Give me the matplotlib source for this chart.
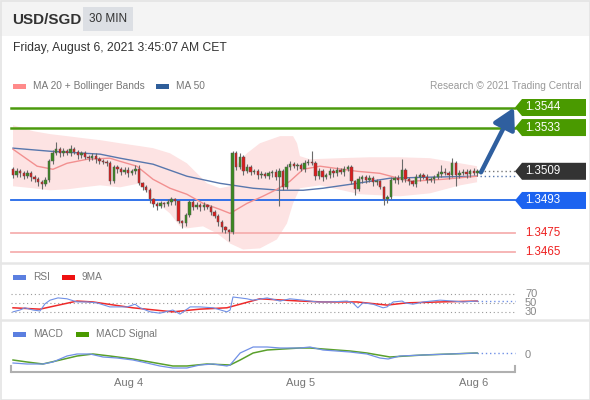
import matplotlib
matplotlib.use('Agg')
import matplotlib.pyplot as plt
from matplotlib.patches import Rectangle, Polygon
import numpy as np

plt.rcParams['font.family'] = ['Liberation Sans', 'DejaVu Sans']

# ---------------- data ----------------
first_open = 1.35101
closes = [1.35068, 1.35090, 1.35079, 1.35063, 1.35079, 1.35057, 1.35046, 1.35030, 1.35019, 1.35041,
          1.35145, 1.35189, 1.35211, 1.35189, 1.35200, 1.35189, 1.35211, 1.35195, 1.35178, 1.35189,
          1.35167, 1.35162, 1.35173, 1.35156, 1.35145, 1.35140, 1.35134, 1.35035, 1.35112, 1.35101,
          1.35085, 1.35096, 1.35079, 1.35090, 1.35101, 1.35024, 1.35002, 1.34986, 1.34936, 1.34909,
          1.34898, 1.34914, 1.34909, 1.34920, 1.34936, 1.34925, 1.34815, 1.34804, 1.34848, 1.34920,
          1.34892, 1.34903, 1.34892, 1.34903, 1.34892, 1.34865, 1.34843, 1.34810, 1.34782, 1.34766,
          1.34755, 1.35189, 1.35112, 1.35167, 1.35090, 1.35112, 1.35085, 1.35090, 1.35068, 1.35074,
          1.35063, 1.35079, 1.35085, 1.35057, 1.35090, 1.35002, 1.35112, 1.35129, 1.35118, 1.35123,
          1.35101, 1.35134, 1.35140, 1.35134, 1.35063, 1.35090, 1.35057, 1.35068, 1.35090, 1.35079,
          1.35096, 1.35085, 1.35101, 1.35112, 1.35035, 1.34991, 1.35046, 1.35057, 1.35041, 1.35052,
          1.35030, 1.35035, 1.35002, 1.34936, 1.34947, 1.35041, 1.35052, 1.35041, 1.35096, 1.35046,
          1.35035, 1.35019, 1.35057, 1.35068, 1.35057, 1.35041, 1.35046, 1.35057, 1.35074, 1.35085,
          1.35079, 1.35068, 1.35134, 1.35068, 1.35079, 1.35085, 1.35074, 1.35090, 1.35079, 1.35090]

# wick lengths above / below the body (units of 0.0001)
wick_up = [1.5, 2, 1.5, 1, 2, 1.5, 1, 1.5, 1, 2,
           1, 2, 4, 1.5, 2, 1.5, 2.5, 1.5, 1, 1.5,
           1.5, 1, 2, 1.5, 1, 1.5, 1, 1, 1.5, 1.5,
           1, 2, 1.5, 1, 2.5, 2.5, 1, 1.5, 1, 1,
           1, 1.5, 1, 2, 1.5, 1, 1, 1, 1.5, 1.5,
           1, 2, 1.5, 2, 1, 1.5, 1, 1, 1.5, 1,
           1, 1, 1.5, 2.5, 1, 2, 1, 1.5, 1, 1.5,
           1, 1.5, 1, 1.5, 2, 1, 2, 1.5, 1, 1.5,
           1.5, 2, 2, 6, 1, 2, 1, 1.5, 2, 1,
           1.5, 1, 2, 1.5, 1, 1, 2, 1.5, 1, 2,
           1, 1.5, 1, 1, 1.5, 2, 1, 1.5, 6, 1,
           1.5, 1, 2, 1.5, 1, 2, 1.5, 1, 2, 4,
           2.5, 1.5, 3, 1, 2, 1.5, 2, 1.5, 2, 1.5]
wick_down = [1.5, 1, 2, 1.5, 1, 2, 1.5, 2, 2.5, 1,
             1, 1.5, 1, 2, 1.5, 1, 1.5, 1, 2, 1.5,
             1, 1.5, 1, 2, 1.5, 1, 1.5, 1.5, 1, 2,
             1.5, 1, 2, 1, 1.5, 1, 1.5, 1, 2, 1.5,
             2, 1, 1.5, 1, 1.5, 2, 1, 2.5, 1.5, 1,
             1.5, 1, 2, 1.5, 1, 1.5, 1, 2, 2.5, 1.5,
             5, 1, 1.5, 1, 2, 1, 1.5, 1, 2, 1.5,
             1, 1.5, 2, 1.5, 16, 1.5, 1, 1.5, 1, 2,
             1, 1.5, 1, 1, 2, 1.5, 2, 1, 1.5, 2,
             1.5, 1, 2, 1, 1.5, 3, 1, 2, 1.5, 1,
             2, 1.5, 1, 3, 2, 1, 1.5, 2, 1, 1.5,
             2, 1, 1.5, 2, 1, 1.5, 1, 2, 1, 1.5,
             1, 2, 1, 6, 1.5, 1, 2, 1.5, 1, 1.5]

# Bollinger bands, MA20, MA50 (x = candle index)
bb_up_x = [0, 5.6, 10.3, 15, 19.4, 24.2, 29.7, 35.3, 38.9, 43.6, 48.3, 51.1, 53.9, 57.5, 60.3,
           61.7, 65, 68.6, 74.2, 77.8, 78.9, 79.7, 82.5, 90.8, 99.2, 107.5, 115.8, 124.2, 128.9]
bb_up = [1.35343, 1.35310, 1.35294, 1.35283, 1.35272, 1.35261, 1.35244, 1.35228, 1.35217, 1.35189,
         1.35134, 1.35079, 1.35024, 1.34997, 1.35008, 1.35118, 1.35189, 1.35244, 1.35283, 1.35283,
         1.35244, 1.35173, 1.35156, 1.35162, 1.35167, 1.35167, 1.35162, 1.35134, 1.35118]
bb_lo_x = [0, 5.6, 10.3, 15, 19.4, 24.2, 29.7, 35.3, 38.9, 43.6, 46.4, 48.3, 52.8, 56.7, 60.3,
           63.9, 68.6, 73.3, 76.1, 77.8, 79.7, 85.3, 96.4, 107.5, 115.8, 124.2, 128.9]
bb_lo = [1.35008, 1.34997, 1.34986, 1.34991, 1.35002, 1.35013, 1.35002, 1.35024, 1.34936, 1.34859,
         1.34788, 1.34777, 1.34788, 1.34749, 1.34694, 1.34661, 1.34667, 1.34716, 1.34804, 1.34914,
         1.34997, 1.35013, 1.34964, 1.34953, 1.34969, 1.35013, 1.35030]
ma20_x = [0, 6.7, 11.1, 15, 20.6, 26.9, 29.7, 34.4, 38.9, 43.6, 48.3, 52.8, 57.5, 60.3, 65,
          69.4, 73.3, 76.9, 80.6, 85.3, 95.6, 101.9, 110.3, 119.4, 128.9]
ma20 = [1.35211, 1.35118, 1.35101, 1.35134, 1.35156, 1.35162, 1.35145, 1.35118, 1.35046, 1.34997,
        1.34964, 1.34914, 1.34881, 1.34859, 1.34914, 1.34953, 1.34991, 1.35035, 1.35101, 1.35118,
        1.35090, 1.35079, 1.35035, 1.35046, 1.35063]
ma50_x = [0, 10.3, 24.2, 29.7, 38.9, 48.3, 57.5, 66.7, 74.2, 80.6, 86.1, 95.6, 104.7, 113.9, 128.9]
ma50 = [1.35217, 1.35200, 1.35184, 1.35162, 1.35129, 1.35063, 1.35024, 1.34997, 1.34986, 1.34986,
        1.34997, 1.35024, 1.35052, 1.35057, 1.35063]

resistances = [1.3544, 1.3533]
last_price = 1.3509
support = 1.3493
lower_levels = [1.3475, 1.3465]

rsi_x = [0, 1.9, 3.3, 5.6, 7.5, 8.9, 10.3, 12.5, 15, 17.8, 20.6, 23.3, 26.9, 29.7, 31.7, 33.9, 35.3,
         38.1, 40.8, 44.4, 46.4, 49.2, 51.9, 55.6, 59.4, 60.3, 61.1, 63.1, 65, 66.7, 70.6, 74.2,
         76.9, 80.6, 84.4, 88.1, 92.8, 94.4, 95.8, 97.2, 100, 102.8, 103.9, 105.6, 108.1, 108.9,
         111.1, 113.9, 118.6, 122.2, 125, 128.9]
rsi = [31, 35, 40, 35, 33, 49, 57, 62, 60, 53, 53, 51, 42, 42, 42, 48, 40,
       31, 28, 35, 26, 42, 42, 40, 31, 35, 64, 62, 60, 57, 62, 55,
       60, 57, 53, 53, 55, 51, 40, 51, 48, 40, 42, 53, 55, 51,
       48, 53, 57, 55, 53, 55]
rsi_ma_x = [0, 7.5, 17.8, 22.2, 33.3, 44.4, 51.9, 59.4, 68.6, 79.7, 86.1, 95.6, 103.9, 109.4, 118.6, 128.9]
rsi_ma = [40, 37, 55, 53, 40, 31, 37, 40, 60, 55, 53, 53, 46, 51, 53, 55]

macd_x = [0, 3.9, 8.3, 11.1, 15, 17.8, 21.4, 25, 28.9, 33.3, 37.2, 40.8, 44.4, 48.3, 51.9, 55.6,
          59.4, 60.3, 63.1, 66.7, 70.6, 74.2, 79.7, 82.5, 86.1, 93.6, 98.3, 101.9, 104.2, 107.5,
          113.9, 121.4, 128.9]
macd = [-1.6, -1.8, -1.8, -1.4, -0.2, 0.2, 0.2, -0.4, -0.6, -1.0, -1.6, -2.2, -2.6, -2.6, -2.0, -1.8,
        -2.2, -2.0, 0.4, 1.6, 1.6, 1.4, 1.4, 1.6, 1.0, 0.6, 0.2, -0.6, -0.8, -0.2,
        0.0, 0.2, 0.4]
signal_x = [0, 3.9, 8.3, 13.1, 17.8, 22.2, 26.9, 33.3, 38.1, 44.4, 48.3, 53.9, 60.3, 63.1, 66.7,
            70.6, 75, 79.7, 82.5, 93.6, 98.3, 104.7, 113.9, 121.4, 128.9]
signal = [-1.0, -1.4, -1.8, -1.0, -0.2, 0.2, -0.2, -0.8, -1.4, -2.2, -2.2, -1.8, -2.0, -1.0, 0.4,
          1.0, 1.2, 1.4, 1.4, 0.8, 0.4, -0.4, 0.0, 0.2, 0.4]

day_ticks = [32, 80, 128]
day_labels = ['Aug 4', 'Aug 5', 'Aug 6']

# ---------------- layout helpers ----------------
W, H = 590, 400
def px(x):
    return (x - 13) / 3.6
X0, X1 = px(0), px(W)
PPX = 0.00005486   # price per pixel in main panel
ANCHOR_P, ANCHOR_Y = 1.3544, 107.5

fig = plt.figure(figsize=(W / 100, H / 100), dpi=100)
fig.patch.set_facecolor('white')

bg = fig.add_axes([0, 0, 1, 1], zorder=0)
bg.set_xlim(0, W); bg.set_ylim(H, 0); bg.axis('off')

def panel(top, bottom):
    ax = fig.add_axes([0, (H - bottom) / H, 1, (bottom - top) / H], zorder=2)
    ax.patch.set_alpha(0)
    ax.axis('off')
    ax.set_xlim(X0, X1)
    return ax

# header
bg.add_patch(Rectangle((0, 0), W, 36, color='#f4f4f4', lw=0))
bg.add_patch(Rectangle((0.5, 0.5), W - 1, H - 1, fill=False, ec='#e4e4e4', lw=1.2))
bg.add_patch(Rectangle((83, 7), 50, 24, color='#dcdfe4', lw=0))
bg.text(12, 19.5, 'USD/SGD', fontsize=11, fontweight='bold', color='#333333', va='center')
bg.text(108, 19.5, '30 MIN', fontsize=8.5, color='#333333', va='center', ha='center')
bg.text(13, 48, 'Friday, August 6, 2021 3:45:07 AM CET', fontsize=8.7, color='#333333', va='center')

# legends
def legend_item(x, y, color, label):
    bg.add_patch(Rectangle((x, y - 2.5), 13, 5, color=color, lw=0))
    bg.text(x + 20, y, label, fontsize=7.3, color='#777777', va='center')

legend_item(13, 86, '#ff8a8a', 'MA 20 + Bollinger Bands')
legend_item(156, 86, '#2f5e9a', 'MA 50')
bg.text(581, 86, 'Research \u00a9 2021 Trading Central', fontsize=7.3, color='#999999', va='center', ha='right')
legend_item(13, 277, '#5b7fe0', 'RSI')
legend_item(62, 277, '#ee1111', '9MA')
legend_item(13, 334, '#5b7fe0', 'MACD')
legend_item(76, 334, '#4a9a00', 'MACD Signal')

# separators
for yy in (262.5, 319.5):
    bg.plot([0, W], [yy, yy], color='#e6e6e6', lw=1.8)

# x axis
bg.plot([11, 515], [372, 372], color='#b0b0b0', lw=1.5, solid_capstyle='butt')
bg.plot([11, 11], [366, 372], color='#b0b0b0', lw=1.5)
bg.plot([515, 515], [366, 372], color='#b0b0b0', lw=1.5)

# ---------------- main panel ----------------
TOP, BOT = 95, 262
ax = panel(TOP, BOT)
ax.set_ylim(ANCHOR_P - (BOT - ANCHOR_Y) * PPX, ANCHOR_P + (ANCHOR_Y - TOP) * PPX)

poly_x = list(bb_up_x) + list(bb_lo_x[::-1])
poly_y = list(bb_up) + list(bb_lo[::-1])
ax.fill(poly_x, poly_y, color='#fde3e3', lw=0, zorder=1)

L0, L1 = px(11), px(515)
for lv in resistances:
    ax.plot([L0, L1], [lv, lv], color='#4c9a0e', lw=1.8, zorder=2)
ax.plot([L0, L1], [support, support], color='#2268e8', lw=1.3, zorder=2)
for lv in lower_levels:
    ax.plot([L0, L1], [lv, lv], color='#f6b0b0', lw=1.3, zorder=2)

ax.plot(ma50_x, ma50, color='#5877ad', lw=1.0, zorder=3)
ax.plot(ma20_x, ma20, color='#f29090', lw=1.0, zorder=3)

opens = [first_open] + closes[:-1]
n = len(closes)
idx = np.arange(n)
for i in range(n):
    o, c = opens[i], closes[i]
    top, bot = max(o, c), min(o, c)
    hi = top + wick_up[i] * 1e-4
    lo = bot - wick_down[i] * 1e-4
    ax.plot([idx[i], idx[i]], [lo, hi], color='#6a6a6a', lw=0.8, zorder=4, solid_capstyle='butt')
    col = '#3b8a1f' if c >= o else '#dd1c1c'
    h = max(top - bot, 0.00002)
    ax.add_patch(Rectangle((idx[i] - 0.36, bot), 0.72, h, facecolor=col, edgecolor='#555555',
                           lw=0.35, zorder=5))

# dotted extensions
ax.plot([px(480), L1], [last_price, last_price], color='#777777', lw=1, ls=(0, (1, 2)), zorder=3)
ax.plot([px(480), L1], [ma50[-1], ma50[-1]], color='#5877ad', lw=1, ls=(0, (1, 2)), zorder=3)

# tags
hh = 8.5 * PPX
def tag(level, color):
    xs = [px(515), px(522), px(586), px(586), px(522)]
    ys = [level, level + hh, level + hh, level - hh, level - hh]
    ax.add_patch(Polygon(list(zip(xs, ys)), closed=True, color=color, lw=0, zorder=6, clip_on=False))
    ax.text(px(525), level, f'{level:.4f}', color='white', fontsize=8.3, va='center', ha='left',
            zorder=7, clip_on=False)

tag(resistances[0], '#4a9a00')
tag(resistances[1], '#4a9a00')
tag(last_price, '#333333')
tag(support, '#1c63f0')
for lv in lower_levels:
    ax.text(px(525), lv, f'{lv:.4f}', color='#ee2020', fontsize=8.3, va='center', ha='left', clip_on=False)

ax.annotate('', xy=(px(514), resistances[0]),
            xytext=(px(481), last_price - 1 * PPX),
            arrowprops=dict(arrowstyle='-|>,head_length=0.9,head_width=0.5', color='#2f5f9f',
                            lw=3.2, mutation_scale=14, shrinkA=0, shrinkB=0), zorder=8)

# ---------------- RSI panel ----------------
rax = panel(262, 319)
rax.set_ylim(70 - (319 - 294.3) / 0.45, 70 + (294.3 - 262) / 0.45)
for lv in (70, 50, 30):
    rax.plot([L0, L1], [lv, lv], color='#9a9a9a', lw=0.8, ls=(0, (1, 2.5)))
    rax.text(px(525), lv, str(lv), fontsize=8, color='#888888', va='center', ha='left', clip_on=True)
rax.plot(rsi_ma_x, rsi_ma, color='#ee2a2a', lw=1.1, zorder=3)
rax.plot(rsi_x, rsi, color='#7090e6', lw=0.8, zorder=4)
rax.plot([rsi_x[-1], L1], [rsi[-1], rsi[-1]], color='#7090e6', lw=1, ls=(0, (1, 2)))

# ---------------- MACD panel ----------------
max_ = panel(319, 372)
max_.set_ylim((355 - 372) * 0.2, (355 - 319) * 0.2)
max_.plot(signal_x, signal, color='#5aa02c', lw=1.1, zorder=3)
max_.plot(macd_x, macd, color='#7090e6', lw=0.9, zorder=4)
max_.plot([macd_x[-1], L1], [macd[-1], macd[-1]], color='#7090e6', lw=1, ls=(0, (1, 2)))
max_.text(px(525), 0, '0', fontsize=8, color='#888888', va='center', ha='left')

for t, lab in zip(day_ticks, day_labels):
    max_.text(t, (355 - 383) * 0.2, lab, fontsize=8, color='#777777', ha='center', va='center',
              clip_on=False)

fig.savefig('out.png', dpi=100)
